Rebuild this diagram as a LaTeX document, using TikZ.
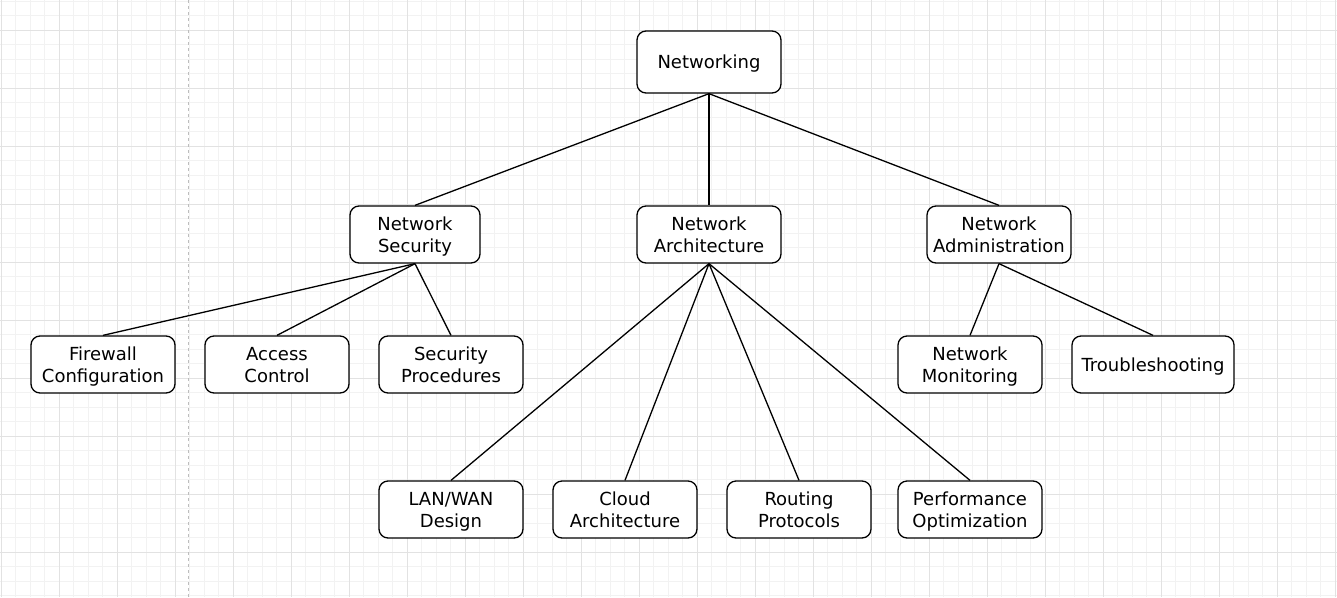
\documentclass[tikz,border=0pt]{standalone}
\usepackage{fontspec}
\setmainfont{DejaVu Sans}
\definecolor{minorgrid}{HTML}{F2F2F2}
\definecolor{majorgrid}{HTML}{E2E2E2}
\definecolor{guide}{HTML}{BDBDBD}
\newcommand{\ls}{\rule[-4.5pt]{0pt}{22pt}}
\begin{document}
\begin{tikzpicture}[x=1pt,y=-1pt,
  box/.style={draw=black,line width=1.3pt,rounded corners=9pt,fill=white,
    minimum width=144pt,minimum height=57pt,inner sep=2pt,align=center,
    font=\fontsize{18}{22}\selectfont},
  link/.style={draw=black,line width=1.3pt},
  minor/.style={draw=minorgrid,line width=1pt},
  major/.style={draw=majorgrid,line width=1pt}]
\useasboundingbox (0,0) rectangle (1337,597);
\fill[white] (0,0) rectangle (1337,597);
% grid
\foreach \i in {0,...,92} \draw[minor] ({1+14.5*\i},0) -- ({1+14.5*\i},597);
\foreach \i in {0,...,41} \draw[minor] (0,{1+14.5*\i}) -- (1337,{1+14.5*\i});
\foreach \i in {0,...,23} \draw[major] ({1+58*\i},0) -- ({1+58*\i},597);
\foreach \i in {0,...,10} \draw[major] (0,{30+58*\i}) -- (1337,{30+58*\i});
\draw[guide,line width=1pt,dash pattern=on 3pt off 3pt] (188.5,0) -- (188.5,597);
% nodes
\node[box,minimum height=62pt] (root) at (709,62) {\ls Networking};
\node[box,minimum width=130pt] (sec) at (415,234.5) {\ls Network\\\ls Security};
\node[box] (arch) at (709,234.5) {\ls Network\\\ls Architecture};
\node[box] (adm) at (999,234.5) {\ls Network\\\ls Administration};
\node[box] (fw) at (103,364.5) {\ls Firewall\\\ls Configuration};
\node[box] (ac) at (277,364.5) {\ls Access\\\ls Control};
\node[box] (sp) at (451,364.5) {\ls Security\\\ls Procedures};
\node[box] (mon) at (970,364.5) {\ls Network\\\ls Monitoring};
\node[box,minimum width=162pt] (ts) at (1153,364.5) {\ls Troubleshooting};
\node[box] (lan) at (451,509.5) {\ls LAN/WAN\\\ls Design};
\node[box] (cloud) at (625,509.5) {\ls Cloud\\\ls Architecture};
\node[box] (rout) at (799,509.5) {\ls Routing\\\ls Protocols};
\node[box] (perf) at (970,509.5) {\ls Performance\\\ls Optimization};
% links
\foreach \a/\b in {root/sec,root/arch,root/adm,sec/fw,sec/ac,sec/sp,adm/mon,adm/ts,arch/lan,arch/cloud,arch/rout,arch/perf}
  \draw[link] (\a.south) -- (\b.north);
\end{tikzpicture}
\end{document}
